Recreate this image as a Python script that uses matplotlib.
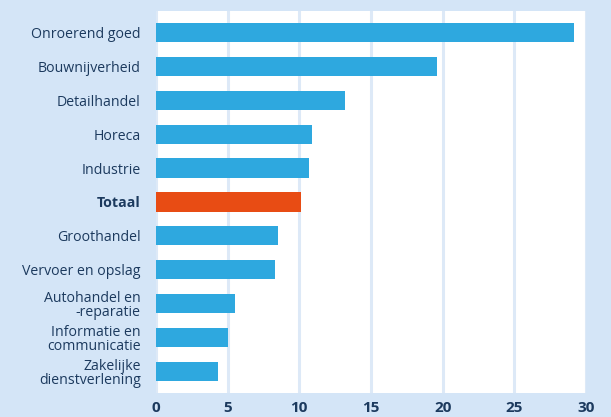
import matplotlib.pyplot as plt

categories = ["Onroerend goed", "Bouwnijverheid", "Detailhandel", "Horeca", "Industrie",
              "Totaal", "Groothandel", "Vervoer en opslag", "Autohandel en\n-reparatie",
              "Informatie en\ncommunicatie", "Zakelijke\ndienstverlening"]
values = [29.2, 19.6, 13.2, 10.9, 10.7, 10.1, 8.5, 8.3, 5.5, 5.0, 4.3]
highlight = "Totaal"

bg = "#d4e5f7"
blue = "#2ea8df"
orange = "#e84c14"
navy = "#1c3a5e"

plt.rcParams['font.family'] = ['Open Sans', 'DejaVu Sans']

fig = plt.figure(figsize=(6.11, 4.17), dpi=100, facecolor=bg)
ax = fig.add_axes([0.2553, 0.0576, 0.7037, 0.916])
ax.set_facecolor("white")

colors = [orange if c == highlight else blue for c in categories]
ypos = list(range(len(categories)))
ax.barh(ypos, values, height=0.56, color=colors, zorder=3)

ax.set_xlim(0, 30)
ax.set_ylim(len(categories) - 1 + 0.62, -0.62)
ax.set_xticks(range(0, 31, 5))
ax.set_yticks(ypos)
ax.set_yticklabels(categories, fontsize=10.2, color=navy, linespacing=0.9)
for lbl in ax.get_yticklabels():
    if lbl.get_text() == highlight:
        lbl.set_fontweight("bold")
ax.tick_params(axis="y", length=0, pad=11)
ax.tick_params(axis="x", length=0, pad=6, labelsize=11, labelcolor=navy)
for lbl in ax.get_xticklabels():
    lbl.set_fontweight("bold")

ax.grid(axis="x", color="#dde9f7", linewidth=2.2, zorder=0)
for s in ax.spines.values():
    s.set_visible(False)

fig.savefig("out.png", dpi=100, facecolor=bg)
